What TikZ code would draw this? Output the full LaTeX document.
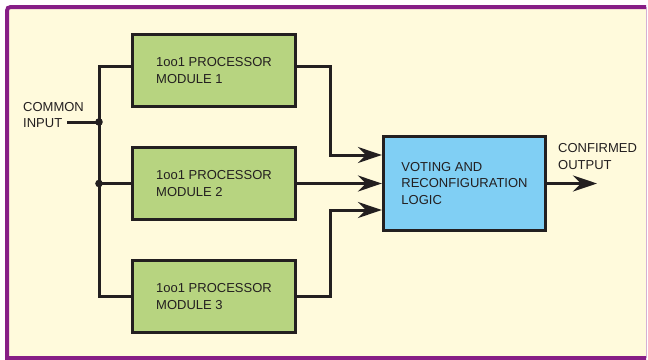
\documentclass[tikz,border=0pt]{standalone}
\usepackage{fontspec}
\setmainfont{Liberation Sans}
\usepackage{tikz}
\usetikzlibrary{arrows.meta}
\usetikzlibrary{positioning}

\definecolor{vertmodule}{RGB}{183,212,128}
\definecolor{bleuvote}{RGB}{128,207,244}
\definecolor{cremefond}{RGB}{255,250,220}
\definecolor{violetcadre}{RGB}{134,30,134}
\definecolor{noirtrait}{RGB}{35,31,32}

\begin{document}
\begin{tikzpicture}[x=1pt,y=-1pt]
% définition des paramètres
\tikzstyle fondschema=[fill=cremefond]
\tikzstyle cadreschema=[color=violetcadre,line width=4pt]
\tikzstyle bordschema=[color=violetcadre!35,line width=1pt]
\tikzstyle texteschema=[text=noirtrait,align=left,inner sep=0pt,font=\fontsize{13}{16.5}\selectfont]
\tikzstyle boitemodule=[texteschema,draw=noirtrait,line width=3.2pt,fill=vertmodule,minimum width=163pt,minimum height=72pt]
\tikzstyle boitevote=[texteschema,draw=noirtrait,line width=3.2pt,fill=bleuvote,minimum width=162pt,minimum height=94pt]
\tikzstyle filschema=[color=noirtrait,line width=3pt]
\tikzstyle flecheschema=[-{Stealth[length=24pt,width=16pt,inset=8pt]}]
\tikzstyle pointschema=[fill=noirtrait]
\newcommand{\largfil}{33}   % longueur des fils horizontaux
\newcommand{\decalfil}{4.5} % les fils du haut et du bas sont un peu relevés
\useasboundingbox (0,0) rectangle (648,359);
% le cadre
\fill[fondschema] (7,358) -- (7,15) .. controls (7,7) .. (15,7) -- (646,7) -- (646,358) -- cycle;
\draw[bordschema] (646,7) -- (646,358);
\draw[cadreschema] (646,358) -- (7,358) -- (7,15) .. controls (7,7) .. (15,7) -- (646,7);
% les boites
\node[boitemodule] (modun) at (214,70.5) {1oo1 PROCESSOR\\MODULE 1};
\node[boitemodule] (moddeux) at (214,183.5) {1oo1 PROCESSOR\\MODULE 2};
\node[boitemodule] (modtrois) at (214,296.5) {1oo1 PROCESSOR\\MODULE 3};
\node[boitevote] (vote) at (464.5,183.5) {VOTING AND\\RECONFIGURATION\\LOGIC};
% les textes
\node[texteschema,anchor=west] (titreentree) at (23,115) {COMMON\\INPUT};
\node[texteschema,anchor=west] (titresortie) at (558,156.5) {CONFIRMED\\OUTPUT};
\coordinate (entree) at (67,122);
\coordinate (noeudun) at (99,122);
\coordinate (noeuddeux) at (99,183.5);
\coordinate (sortie) at (597,183.5);
% les fils d'entrée
\draw[filschema] (entree) -- (noeudun);
\draw[filschema] ([yshift=\decalfil pt]modun.west) -| (noeudun) -- (noeuddeux) |- (modtrois.west);
\draw[filschema] (noeuddeux) -- (moddeux.west);
\fill[pointschema] (noeudun) circle (3.8);
\fill[pointschema] (noeuddeux) circle (3.8);
% les fils de sortie
\draw[filschema,flecheschema] ([yshift=\decalfil pt]modun.east) -- ++(\largfil,0) |- ([yshift=28.5pt]vote.west);
\draw[filschema,flecheschema] (moddeux.east) -- (vote.west);
\draw[filschema,flecheschema] (modtrois.east) -- ++(\largfil,0) |- ([yshift=-26.5pt]vote.west);
\draw[filschema,flecheschema] (vote.east) -- (sortie);
\end{tikzpicture}
\end{document}
